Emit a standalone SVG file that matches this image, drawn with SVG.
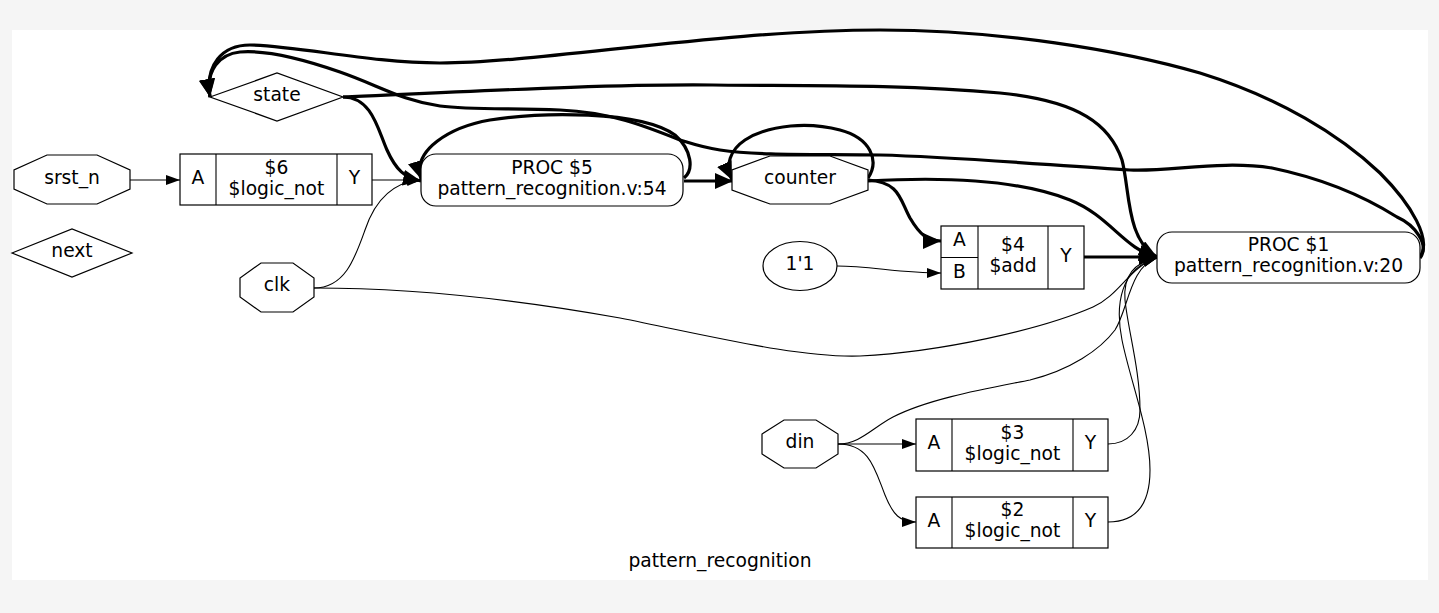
<svg xmlns="http://www.w3.org/2000/svg" width="1439" height="613" viewBox="0 0 1439 613">
<style>
text{font-family:"DejaVu Sans","Liberation Sans",sans-serif;font-size:18.7px;fill:#000;text-anchor:middle}
.n{fill:#fff;stroke:#000;stroke-width:1.2}
.t{fill:none;stroke:#000;stroke-width:1.1}
.b{fill:none;stroke:#000;stroke-width:3.2}
.ta{marker-end:url(#at)}
.ba{marker-end:url(#ab)}
</style>
<defs>
<marker id="at" markerUnits="userSpaceOnUse" markerWidth="15" markerHeight="11" refX="14" refY="5" orient="auto"><path d="M0,0 L14,5 L0,10 z" fill="#000"/></marker>
<marker id="ab" markerUnits="userSpaceOnUse" markerWidth="19" markerHeight="17" refX="18" refY="8" orient="auto"><path d="M0,0 L18,8 L0,16 z" fill="#000"/></marker>
</defs>
<rect x="0" y="0" width="1439" height="613" fill="#f5f5f5"/>
<rect x="12" y="30" width="1416" height="550" fill="#fff"/>
<text x="720" y="567">pattern_recognition</text>

<g id="connectors">
<path class="t ta" d="M130,180 L180,180"/>
<path class="t ta" d="M372,180 C390,180 402,180 421,180"/>
<path class="t ta" d="M314,288 C345,288 355,258 365,230 C375,200 392,182 421,180"/>
<path class="b ba" d="M343,97 C372,97 378,130 387,150 C396,170 405,178 421,181"/>
<path class="b ba" d="M684,178 C694,170 692,150 675,135 C640,110 540,112 490,120 C450,127 412,150 421,179"/>
<path class="b ba" d="M684,181 L733,181"/>
<path class="b ba" d="M868,178 C880,160 870,138 840,130 C810,122 770,124 745,140 C730,150 725,165 732,180"/>
<path class="b ba" d="M868,180 C900,182 900,200 910,218 C920,235 928,241 941,241"/>
<path class="b ba" d="M868,181 C920,178 1010,176 1070,200 C1110,216 1125,250 1157,257"/>
<path class="b ba" d="M343,97 C500,90 620,84 713,85 C800,86 900,84 1000,93 C1080,101 1110,125 1122,160 C1130,190 1126,240 1157,257"/>
<path class="b ba" d="M1084,257 L1157,257"/>
<path class="t ta" d="M837,266 C870,266 900,273 941,273"/>
<path class="t ta" d="M314,288 C420,288 520,300 620,318 C720,338 800,358 860,356 C940,352 1040,330 1093,307 C1120,295 1130,266 1157,258"/>
<path class="t ta" d="M838,444 C860,444 872,428 893,417 C930,398 990,388 1030,380 C1070,370 1100,350 1115,330 C1128,310 1130,266 1157,258"/>
<path class="t ta" d="M838,444 L916,444"/>
<path class="t ta" d="M838,444 C870,444 875,470 885,495 C893,515 900,522 916,522"/>
<path class="t ta" d="M1108,444 C1128,444 1140,430 1140,410 C1140,370 1128,330 1125,300 C1123,275 1135,262 1157,258"/>
<path class="t ta" d="M1108,522 C1135,522 1150,505 1150,470 C1150,430 1130,380 1122,340 C1115,305 1120,268 1157,258"/>
<path class="b ba" d="M1420,257 C1432,240 1412,205 1380,173 C1340,135 1280,98 1200,73 C1120,50 1000,30 880,30 C720,30 540,63 440,63 C370,63 300,46 250,45 C222,45 205,65 210,97"/>
<path class="b ba" d="M1420,258 C1430,245 1415,225 1397,217 C1370,200 1330,180 1272,168 C1220,160 1170,172 1130,170 C1060,166 960,157 880,155 C820,154 760,156 720,150 C700,147 690,143 680,140 C645,126 610,112 560,110 C510,108 470,110 440,106 C400,100 380,86 340,72 C300,58 265,50 240,52 C220,54 205,70 210,97"/>
</g>

<g id="state"><polygon class="n" points="210,97 277,73 343,97 277,121"/><text x="277" y="101">state</text></g>
<g id="next"><polygon class="n" points="12,253 72,229 132,253 72,277"/><text x="72" y="257">next</text></g>
<g id="srst_n"><polygon class="n" points="47,155 97,155 130,170 130,189 97,204 47,204 14,189 14,170"/><text x="72" y="184">srst_n</text></g>
<g id="clk"><polygon class="n" points="261,263 293,263 314,278 314,297 293,312 261,312 240,297 240,278"/><text x="277" y="291">clk</text></g>
<g id="counter"><polygon class="n" points="770,156 830,156 868,170 868,190 830,204 770,204 732,190 732,170"/><text x="800" y="184">counter</text></g>
<g id="din"><polygon class="n" points="784,420 816,420 838,434 838,454 816,468 784,468 762,454 762,434"/><text x="800" y="448">din</text></g>
<g id="const1"><ellipse class="n" cx="800" cy="266" rx="37" ry="24.5"/><text x="800" y="270">1'1</text></g>

<g id="cell6"><rect class="n" x="180" y="154" width="192" height="51"/><path class="t" d="M216,154 V205 M337,154 V205"/>
<text x="198" y="184">A</text><text x="276.5" y="173.5">$6</text><text x="276.5" y="194.5">$logic_not</text><text x="354.5" y="184">Y</text></g>

<g id="proc5"><rect class="n" x="421" y="154" width="262" height="52" rx="15"/>
<text x="552" y="173.5">PROC $5</text><text x="552" y="194.5">pattern_recognition.v:54</text></g>

<g id="cell4"><rect class="n" x="941" y="226" width="143" height="63"/><path class="t" d="M978,226 V289 M1048,226 V289 M941,257.5 H978"/>
<text x="959.5" y="246">A</text><text x="959.5" y="278">B</text><text x="1013" y="251">$4</text><text x="1013" y="272">$add</text><text x="1066" y="261.5">Y</text></g>

<g id="proc1"><rect class="n" x="1157" y="232" width="263" height="51" rx="15"/>
<text x="1288.5" y="251">PROC $1</text><text x="1288.5" y="272">pattern_recognition.v:20</text></g>

<g id="cell3"><rect class="n" x="916" y="419" width="192" height="52"/><path class="t" d="M952,419 V471 M1073,419 V471"/>
<text x="934" y="449">A</text><text x="1012.5" y="438.5">$3</text><text x="1012.5" y="459.5">$logic_not</text><text x="1090.5" y="449">Y</text></g>

<g id="cell2"><rect class="n" x="916" y="497" width="192" height="51"/><path class="t" d="M952,497 V548 M1073,497 V548"/>
<text x="934" y="526.5">A</text><text x="1012.5" y="516">$2</text><text x="1012.5" y="537">$logic_not</text><text x="1090.5" y="526.5">Y</text></g>
</svg>
